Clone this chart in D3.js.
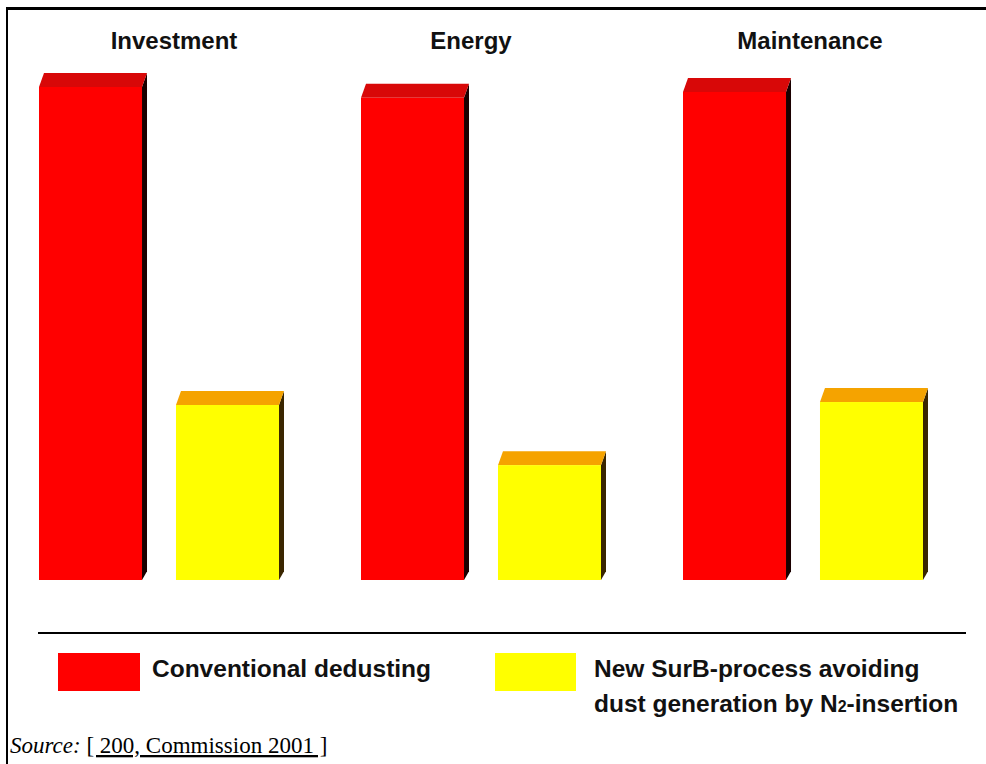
<!DOCTYPE html>
<html><head><meta charset="utf-8">
<script src="https://cdn.jsdelivr.net/npm/d3@7"></script>
<style>body{margin:0;background:#fff}svg{display:block}</style>
</head><body>
<svg id="c" width="986" height="764"></svg>
<script>
const categories = ["Investment", "Energy", "Maintenance"];
const seriesNames = ["Conventional dedusting", "New SurB-process"];
const conventional = [100, 97.8, 99.0];
const surb = [35.5, 23.3, 36.1];

const svg = d3.select("#c");
const W = 986, H = 764;
const base = 580, topY = 87;

// frame
svg.append("line").attr("x1", 6).attr("x2", W).attr("y1", 8.5).attr("y2", 8.5).attr("stroke", "#000").attr("stroke-width", 3);
svg.append("line").attr("x1", 7).attr("x2", 7).attr("y1", 7).attr("y2", H).attr("stroke", "#000").attr("stroke-width", 2);

const x0 = d3.scaleBand().domain(categories).range([39, 39 + 322 * 3]).paddingInner(0);
const x1 = d3.scaleBand().domain(seriesNames).range([0, 240]).paddingInner(0.248);
const y = d3.scaleLinear().domain([0, 100]).range([base, topY]);

const colors = {
  "Conventional dedusting": {front: "#ff0000", top: "#d80808", side: "#1a0000"},
  "New SurB-process": {front: "#ffff00", top: "#f5a300", side: "#3a2600"}
};
const dx = 5, dy = 14;

const data = [];
categories.forEach((c, i) => {
  data.push({cat: c, s: seriesNames[0], v: conventional[i]});
  data.push({cat: c, s: seriesNames[1], v: surb[i]});
});

const g = svg.append("g");
data.forEach(d => {
  const x = x0(d.cat) + x1(d.s), w = x1.bandwidth(), yt = y(d.v), col = colors[d.s];
  g.append("path").attr("d", `M${x + w},${yt} L${x + w + dx},${yt - dy} L${x + w + dx},${base - dy / 1.6} L${x + w},${base} Z`).attr("fill", col.side);
  g.append("path").attr("d", `M${x},${yt} L${x + dx},${yt - dy} L${x + w + dx},${yt - dy} L${x + w},${yt} Z`).attr("fill", col.top);
  g.append("rect").attr("x", x).attr("y", yt).attr("width", w).attr("height", base - yt).attr("fill", col.front);
});

// category labels
const labelX = {Investment: 174, Energy: 471, Maintenance: 810};
const font = "Liberation Sans, Arial, sans-serif";
svg.selectAll("text.cat").data(categories).join("text")
  .attr("class", "cat")
  .attr("x", d => labelX[d])
  .attr("y", 49)
  .attr("text-anchor", "middle")
  .attr("font-family", font)
  .attr("font-weight", "bold")
  .attr("font-size", 24)
  .attr("fill", "#111")
  .text(d => d);

// legend
svg.append("line").attr("x1", 38).attr("x2", 966).attr("y1", 633).attr("y2", 633).attr("stroke", "#000").attr("stroke-width", 2);
svg.append("rect").attr("x", 58).attr("y", 653).attr("width", 82).attr("height", 38).attr("fill", "#ff0000");
svg.append("rect").attr("x", 495).attr("y", 653).attr("width", 81).attr("height", 38).attr("fill", "#ffff00");
function T(x, yy, txt) {
  const t = svg.append("text").attr("x", x).attr("y", yy)
    .attr("font-family", font).attr("font-weight", "bold").attr("font-size", 24.5).attr("fill", "#111");
  if (txt !== undefined) t.text(txt);
  return t;
}
T(152, 677, "Conventional dedusting");
T(594, 677, "New SurB-process avoiding");
const t2 = T(594, 712);
t2.append("tspan").text("dust generation by N");
t2.append("tspan").attr("font-size", 16).text("2");
t2.append("tspan").text("-insertion");

// source
const s = svg.append("text").attr("x", 10).attr("y", 753).attr("font-family", "Liberation Serif, Times New Roman, serif")
  .attr("font-size", 23).attr("fill", "#000");
s.append("tspan").attr("font-style", "italic").text("Source:");
s.append("tspan").text(" ");
s.append("tspan").attr("text-decoration", "underline").text("[ 200, Commission 2001 ]");
</script>
</body></html>
